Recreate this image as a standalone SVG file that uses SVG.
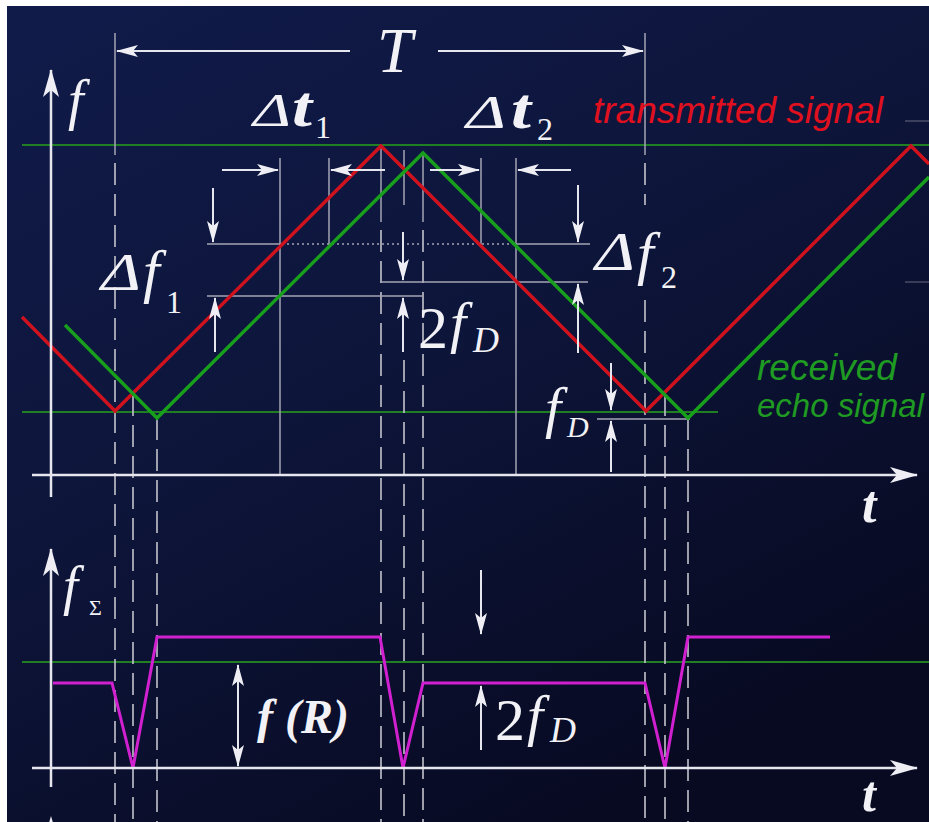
<svg xmlns="http://www.w3.org/2000/svg" width="929" height="822" viewBox="0 0 929 822">
<defs>
<linearGradient id="bg" x1="0" y1="0" x2="0.6" y2="1">
<stop offset="0" stop-color="#111b4a"/>
<stop offset="0.5" stop-color="#0d153a"/>
<stop offset="1" stop-color="#080a22"/>
</linearGradient>
<marker id="arr" viewBox="0 0 22 12" markerWidth="22" markerHeight="12" refX="21" refY="6" orient="auto-start-reverse" markerUnits="userSpaceOnUse">
<path d="M0,0 L22,6 L0,12 L5,6 z" fill="#eeeef4"/>
</marker>
<marker id="ax" viewBox="0 0 28 16" markerWidth="28" markerHeight="16" refX="27" refY="8" orient="auto" markerUnits="userSpaceOnUse">
<path d="M0,0 L28,8 L0,16 L7,8 z" fill="#eeeef4"/>
</marker>
<style>
.axis{stroke:#e6e6ee;stroke-width:2.5;fill:none}
.dim{stroke:#e6e6ee;stroke-width:2;fill:none}
.guide{stroke:#a4a4b4;stroke-width:1.5;fill:none}
.dot{stroke:#a4a4b4;stroke-width:1.5;fill:none;stroke-dasharray:2 3}
.dash{stroke:#c4c4cc;stroke-width:1.6;fill:none;stroke-dasharray:22 9}
.lvl{stroke:#1f7f22;stroke-width:2;fill:none}
.tx{stroke:#d0121e;stroke-width:3.4;fill:none}
.rx{stroke:#18a01c;stroke-width:3.4;fill:none}
.mix{stroke:#d020d0;stroke-width:3;fill:none}
.m{font-family:'Liberation Serif','DejaVu Serif',serif;font-style:italic;fill:#f2f2f6}
.sub{font-family:'Liberation Serif','DejaVu Serif',serif;font-style:normal;fill:#f2f2f6}
.lab{font-family:'Liberation Sans',Arial,sans-serif;font-style:italic}
</style>
</defs>
<rect x="0" y="0" width="929" height="822" fill="#ffffff"/>
<rect x="7" y="6" width="922" height="816" fill="url(#bg)"/>

<g id="levels">
<line class="lvl" x1="22" y1="145" x2="929" y2="145"/>
<line class="lvl" x1="22" y1="412" x2="718" y2="412"/>
<line class="lvl" x1="22" y1="662" x2="929" y2="662"/>
</g>

<g id="guides">
<line class="guide" x1="115" y1="33" x2="115" y2="155"/>
<line class="guide" x1="645" y1="33" x2="645" y2="155"/>
<line class="dash" x1="115" y1="163" x2="115" y2="822"/>
<line class="dash" x1="645" y1="163" x2="645" y2="205"/>
<line class="dash" x1="645" y1="300" x2="645" y2="822"/>
<line class="dash" x1="133" y1="394" x2="133" y2="822"/>
<line class="dash" x1="157" y1="418" x2="157" y2="822"/>
<line class="dash" x1="665" y1="394" x2="665" y2="822"/>
<line class="dash" x1="688" y1="418" x2="688" y2="822"/>
<line class="guide" x1="381" y1="146" x2="381" y2="222"/>
<line class="dash" x1="381" y1="230" x2="381" y2="822"/>
<line class="guide" x1="404" y1="150" x2="404" y2="205"/>
<line class="dash" x1="404" y1="360" x2="404" y2="822"/>
<line class="guide" x1="423" y1="153" x2="423" y2="222"/>
<line class="dash" x1="423" y1="230" x2="423" y2="822"/>
<line class="guide" x1="280" y1="158" x2="280" y2="475"/>
<line class="guide" x1="329" y1="158" x2="329" y2="246"/>
<line class="guide" x1="481" y1="158" x2="481" y2="246"/>
<line class="guide" x1="516" y1="158" x2="516" y2="475"/>
<line class="guide" x1="207" y1="244" x2="282" y2="244"/>
<line class="dot" x1="282" y1="244" x2="514" y2="244"/>
<line class="guide" x1="514" y1="244" x2="590" y2="244"/>
<line class="guide" x1="207" y1="296" x2="422" y2="296"/>
<line class="guide" x1="380" y1="282" x2="588" y2="282"/>
<line class="guide" x1="597" y1="419" x2="690" y2="419"/>
<line class="guide" x1="905" y1="121" x2="929" y2="121" stroke-opacity="0.4"/>
<line class="guide" x1="905" y1="282" x2="929" y2="282" stroke-opacity="0.4"/>
</g>

<g id="signals">
<polyline class="tx" points="22,317 115,411 381,146 646,411 911,146 929,164"/>
<polyline class="rx" points="65,325 157,418 423,153 688,418 929,177"/>
<polyline class="mix" points="53,683 112,683 133,768 157,637 380,637 403,768 423,683 645,683 665,768 688,637 830,637"/>
</g>

<g id="axes">
<line class="axis" x1="51" y1="497" x2="51" y2="70" marker-end="url(#ax)"/>
<line class="axis" x1="32" y1="475" x2="917" y2="475" marker-end="url(#ax)"/>
<line class="axis" x1="51" y1="787" x2="51" y2="549" marker-end="url(#ax)"/>
<line class="axis" x1="32" y1="768" x2="917" y2="768" marker-end="url(#ax)"/>
<polygon points="51,816 44,840 51,834 58,840" fill="#eeeef4"/>
</g>

<g id="dimensions">
<line class="dim" x1="350" y1="51" x2="117" y2="51" marker-end="url(#arr)"/>
<line class="dim" x1="438" y1="51" x2="643" y2="51" marker-end="url(#arr)"/>
<line class="dim" x1="222" y1="170" x2="278" y2="170" marker-end="url(#arr)"/>
<line class="dim" x1="385" y1="170" x2="331" y2="170" marker-end="url(#arr)"/>
<line class="dim" x1="430" y1="170" x2="479" y2="170" marker-end="url(#arr)"/>
<line class="dim" x1="571" y1="170" x2="518" y2="170" marker-end="url(#arr)"/>
<line class="dim" x1="213" y1="188" x2="213" y2="242" marker-end="url(#arr)"/>
<line class="dim" x1="215" y1="352" x2="215" y2="298" marker-end="url(#arr)"/>
<line class="dim" x1="403" y1="232" x2="403" y2="280" marker-end="url(#arr)"/>
<line class="dim" x1="403" y1="352" x2="403" y2="298" marker-end="url(#arr)"/>
<line class="dim" x1="578" y1="185" x2="578" y2="242" marker-end="url(#arr)"/>
<line class="dim" x1="578" y1="353" x2="578" y2="284" marker-end="url(#arr)"/>
<line class="dim" x1="611" y1="363" x2="611" y2="410" marker-end="url(#arr)"/>
<line class="dim" x1="611" y1="472" x2="611" y2="421" marker-end="url(#arr)"/>
<line class="dim" x1="238" y1="665" x2="238" y2="766" marker-start="url(#arr)" marker-end="url(#arr)"/>
<line class="dim" x1="481" y1="570" x2="481" y2="634" marker-end="url(#arr)"/>
<line class="dim" x1="481" y1="750" x2="481" y2="686" marker-end="url(#arr)"/>
</g>

<g id="labels">
<text class="m" x="377" y="72" font-size="64">T</text>
<text class="m" x="68" y="119" font-size="56">f</text>
<text class="m" x="253" y="126" font-size="46" textLength="38" lengthAdjust="spacingAndGlyphs">Δ</text>
<text class="m" x="292" y="126" font-size="56" font-weight="bold" textLength="20" lengthAdjust="spacingAndGlyphs">t</text>
<text class="sub" x="315" y="138" font-size="32">1</text>
<text class="m" x="466" y="128" font-size="46" textLength="40" lengthAdjust="spacingAndGlyphs">Δ</text>
<text class="m" x="511" y="128" font-size="56" font-weight="bold" textLength="20" lengthAdjust="spacingAndGlyphs">t</text>
<text class="sub" x="537" y="140" font-size="32">2</text>
<text class="m" x="101" y="290" font-size="52" textLength="40" lengthAdjust="spacingAndGlyphs">Δ</text>
<text class="m" x="143" y="291" font-size="60">f</text>
<text class="sub" x="166" y="313" font-size="32">1</text>
<text class="m" x="595" y="270" font-size="54" textLength="40" lengthAdjust="spacingAndGlyphs">Δ</text>
<text class="m" x="637" y="273" font-size="60">f</text>
<text class="sub" x="661" y="288" font-size="32">2</text>
<text class="sub" x="418" y="348" font-size="60">2</text>
<text class="m" x="450" y="342" font-size="58">f</text>
<text class="m" x="473" y="352" font-size="36">D</text>
<text class="m" x="545" y="427" font-size="58">f</text>
<text class="m" x="567" y="437" font-size="30">D</text>
<text class="m" x="862" y="522" font-size="52" font-weight="bold">t</text>
<text class="m" x="63" y="604" font-size="54">f</text>
<text class="sub" x="89" y="615" font-size="22">Σ</text>
<text class="m" x="257" y="733" font-size="48" font-weight="bold">f (R)</text>
<text class="sub" x="495" y="740" font-size="60">2</text>
<text class="m" x="527" y="735" font-size="58">f</text>
<text class="m" x="550" y="742" font-size="36">D</text>
<text class="m" x="862" y="811" font-size="50" font-weight="bold">t</text>
<text class="lab" x="593" y="123" font-size="37" fill="#e0101e">transmitted signal</text>
<text class="lab" x="757" y="380" font-size="37" fill="#1f9a22">received</text>
<text class="lab" x="757" y="417" font-size="33" fill="#1f9a22">echo signal</text>
</g>
</svg>
